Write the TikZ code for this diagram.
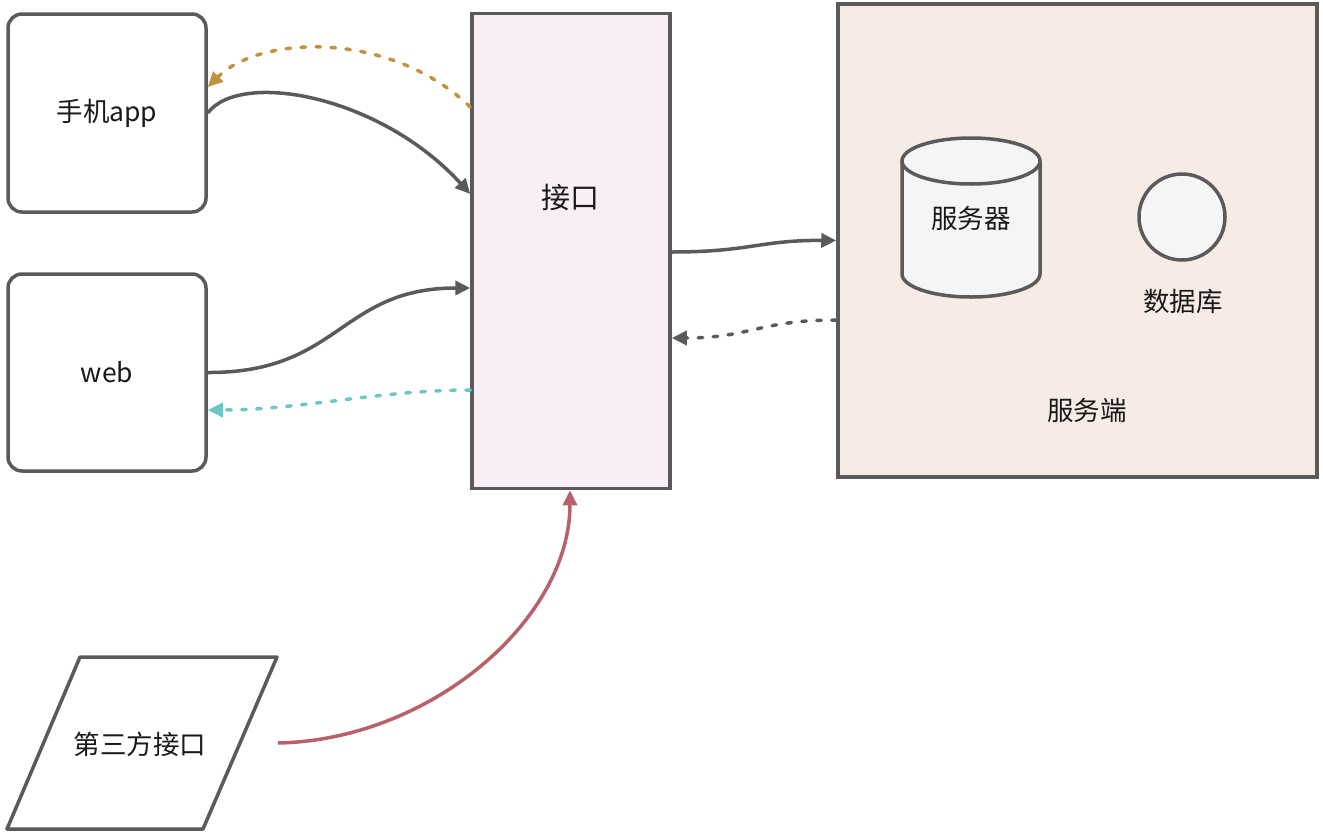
\documentclass[tikz,border=0pt]{standalone}
\usepackage{fontspec}
\setmainfont{Noto Sans CJK SC}
\usetikzlibrary{arrows.meta}
\definecolor{linegray}{HTML}{5A5A5A}
\definecolor{jkfill}{HTML}{F9EDF6}
\definecolor{srvfill}{HTML}{F6EBE5}
\definecolor{objfill}{HTML}{F5F5F5}
\definecolor{goldc}{HTML}{C1923E}
\definecolor{cyanc}{HTML}{6CC6C6}
\definecolor{redc}{HTML}{B9616A}
\tikzset{
  box/.style={draw=linegray, line width=3.5pt, inner sep=0pt},
  lbl/.style={font=\fontsize{26.5}{31}\selectfont, text=black!90},
  conn/.style={line width=3.5pt, draw=linegray, -{Triangle[length=15pt,width=14pt]}},
  dconn/.style={conn, line cap=round, dash pattern=on 4.5pt off 10.5pt},
}
\begin{document}
\begin{tikzpicture}[x=1pt,y=-1pt]
\useasboundingbox (0,0) rectangle (1323,833);
\fill[white] (0,0) rectangle (1323,833);

% boxes
\node[box, rounded corners=14pt, fill=white, minimum width=198pt, minimum height=198pt] (app) at (107,113) {};
\node[lbl] at (app.center) {手机app};
\node[box, rounded corners=14pt, fill=white, minimum width=198pt, minimum height=197pt] (web) at (107,372.5) {};
\node[lbl] at (web.center) {web};
\node[box, fill=jkfill, minimum width=198pt, minimum height=475pt] (jk) at (571,251) {};
\node[lbl, font=\fontsize{29}{33}\selectfont] (jklbl) at (570,198) {接口};
\node[box, fill=srvfill, minimum width=479pt, minimum height=473pt] (srv) at (1077.5,240.5) {};
\node[lbl] (srvlbl) at (1087,410) {服务端};

% cylinder
\filldraw[fill=objfill, draw=linegray, line width=3.5pt]
  (902,161) -- (902,274) arc[start angle=180, end angle=360, x radius=69pt, y radius=23pt]
  -- (1040,161) arc[start angle=0, end angle=180, x radius=69pt, y radius=23pt] -- cycle;
\draw[draw=linegray, line width=3.5pt]
  (902,161) arc[start angle=180, end angle=360, x radius=69pt, y radius=23pt];
\node[lbl] (server) at (971,218) {服务器};

% circle
\node[box, circle, fill=objfill, minimum size=86pt] (db) at (1182,217) {};
\node[lbl] (dblbl) at (1183,301) {数据库};

% parallelogram
\coordinate (p1) at (80,657);
\coordinate (p2) at (277,657);
\coordinate (p3) at (203,829);
\coordinate (p4) at (7,829);
\draw[draw=linegray, line width=3.5pt, line join=round, fill=white] (p1) -- (p2) -- (p3) -- (p4) -- cycle;
\node[lbl] (third) at (140,744) {第三方接口};
\coordinate (thirdout) at (278,743);

% connectors
\draw[dconn, draw=goldc] ([yshift=144pt]jk.west) .. controls (390,30) and (260,35) .. ([yshift=26pt]app.east);
\draw[conn] (app.east) .. controls (240,70) and (380,95) .. ([yshift=57pt]jk.west);
\draw[conn] (web.east) .. controls (340,373) and (340,288) .. ([yshift=-37pt]jk.west);
\draw[dconn, draw=cyanc] ([yshift=-139pt]jk.west) .. controls (380,390) and (300,410) .. ([yshift=-37.5pt]web.east);
\draw[conn] ([yshift=-1pt]jk.east) .. controls (750,252) and (760,240) .. (srv.west);
\draw[dconn] ([yshift=-79.5pt]srv.west) .. controls (760,320) and (750,338) .. ([yshift=-87pt]jk.east);
\draw[conn, draw=redc] (thirdout) .. controls (430,740) and (570,620) .. ([xshift=-1pt]jk.south);
\end{tikzpicture}
\end{document}
